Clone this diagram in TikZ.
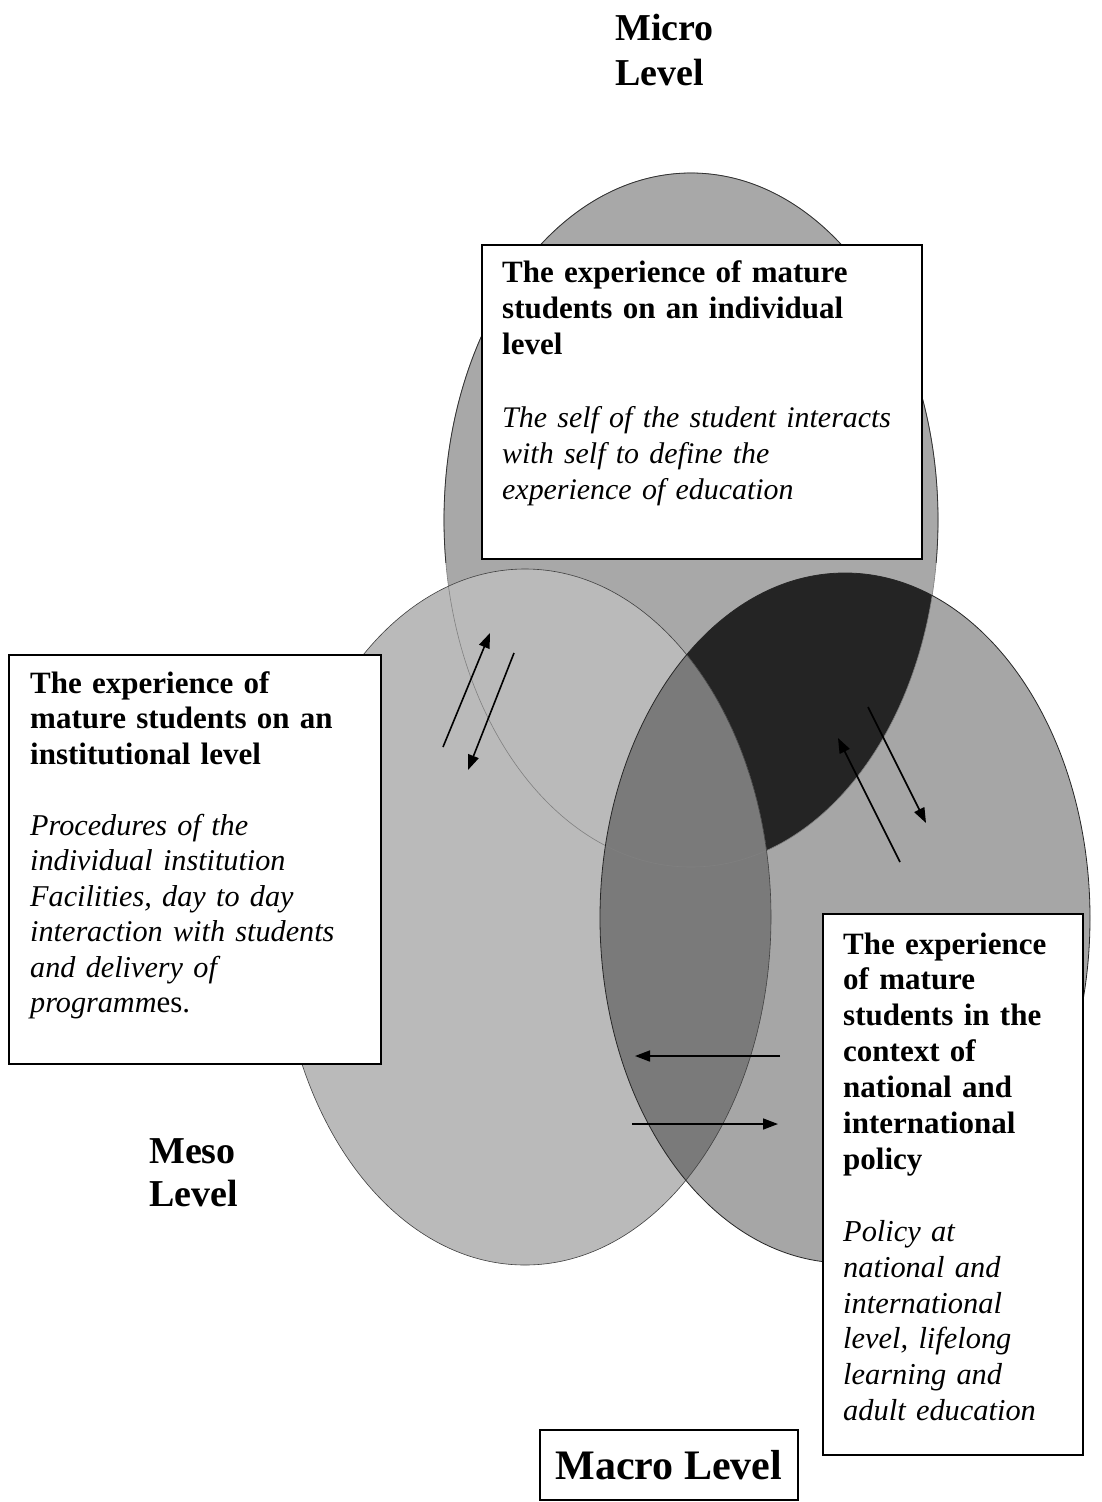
\documentclass[tikz,border=0pt]{standalone}
\usepackage{fontspec}
\setmainfont{Liberation Serif}
\usetikzlibrary{arrows.meta}
\begin{document}
\begin{tikzpicture}[x=1pt,y=-1pt,
  microfill/.style={fill=black!34},
  mesofill/.style={fill=black!27},
  macrofill/.style={fill=black!35},
  darkfill/.style={fill=black!86},
  medfill/.style={fill=black!52},
  outline/.style={draw=black!75, line width=0.8pt},
  lvl/.style={font=\fontsize{38}{45}\selectfont\bfseries, align=left, inner sep=0pt, anchor=base west, text width=160pt},
  boxframe/.style={draw=black, line width=2pt, fill=white, inner sep=0pt, anchor=north west},
  boxtext/.style={inner sep=0pt, anchor=base west, align=left},
  it/.style={},
  arr/.style={line width=1.6pt, -{Triangle[length=15pt,width=11pt]}},
]
\path[use as bounding box, fill=white] (0,0) rectangle (1102,1502);

% ellipse centres
\coordinate (cMicro) at (691,520);
\coordinate (cMeso) at (525,917);
\coordinate (cMacro) at (845,918);

% base fills
\fill[microfill] (cMicro) ellipse [x radius=247pt, y radius=347pt];
\fill[macrofill] (cMacro) ellipse [x radius=245pt, y radius=345pt];
% micro & macro overlap (dark)
\begin{scope}
  \clip (cMicro) ellipse [x radius=247pt, y radius=347pt];
  \fill[darkfill] (cMacro) ellipse [x radius=245pt, y radius=345pt];
\end{scope}
% meso on top
\fill[mesofill] (cMeso) ellipse [x radius=246pt, y radius=348pt];
% meso & macro overlap (medium)
\begin{scope}
  \clip (cMeso) ellipse [x radius=246pt, y radius=348pt];
  \fill[medfill] (cMacro) ellipse [x radius=245pt, y radius=345pt];
\end{scope}

% outlines
\draw[outline, draw=black!50, line width=0.6pt] (cMicro) ellipse [x radius=247pt, y radius=347pt];
\draw[outline, line width=0.6pt] (cMeso) ellipse [x radius=246pt, y radius=348pt];
\draw[outline, draw=black!85] (cMacro) ellipse [x radius=245pt, y radius=345pt];
\begin{scope}
  \clip (0,0) rectangle (1102,562);
  \draw[outline, draw=black!80] (cMicro) ellipse [x radius=247pt, y radius=347pt];
\end{scope}

% arrows
\coordinate (a1s) at (443,747);  \coordinate (a1e) at (490,633);
\coordinate (a2s) at (514,653);  \coordinate (a2e) at (468,770);
\coordinate (a3s) at (868,707);  \coordinate (a3e) at (926,823);
\coordinate (a4s) at (900,862);  \coordinate (a4e) at (838,738);
\coordinate (a5s) at (780,1056); \coordinate (a5e) at (635,1056);
\coordinate (a6s) at (632,1124); \coordinate (a6e) at (778,1124);
\draw[arr] (a1s) -- (a1e);
\draw[arr] (a2s) -- (a2e);
\draw[arr] (a3s) -- (a3e);
\draw[arr] (a4s) -- (a4e);
\draw[arr] (a5s) -- (a5e);
\draw[arr] (a6s) -- (a6e);

% level labels
\node[lvl] (microlbl) at (615,40) {Micro\\Level};
\node[lvl, font=\fontsize{38}{43}\selectfont\bfseries] (mesolbl) at (149,1163) {Meso\\Level};

% boxes
\node[boxframe, minimum width=440pt, minimum height=314pt] (topbox) at (481,244) {};
\node[boxtext, text width=410pt, font=\fontsize{31}{36.3}\selectfont] (toptext) at (502,282)
  {{\bfseries The experience of mature\\students on an individual\\level}\\[36.3pt]
   {\itshape\fontsize{29.9}{36.3}\selectfont The self of the student interacts\\with self to define the\\experience of education}};

\node[boxframe, minimum width=372pt, minimum height=409pt] (leftbox) at (8,654) {};
\node[boxtext, text width=345pt, font=\fontsize{31}{35.5}\selectfont] (lefttext) at (30,693)
  {{\bfseries The experience of\\mature students on an\\institutional level}\\[35.5pt]
   {\itshape\fontsize{30.2}{35.5}\selectfont Procedures of the\\individual institution\\Facilities, day to day\\interaction with students\\and delivery of\\programm}es.};

\node[boxframe, minimum width=260pt, minimum height=541pt] (rightbox) at (822,913) {};
\node[boxtext, text width=235pt, font=\fontsize{31}{35.9}\selectfont] (righttext) at (843,954)
  {{\bfseries The experience\\of mature\\students in the\\context of\\national and\\international\\policy}\\[35.9pt]
   {\itshape\fontsize{30.4}{35.9}\selectfont Policy at\\national and\\international\\level, lifelong\\learning and\\adult education}};

\node[draw=black, line width=2pt, fill=white, inner sep=0pt, minimum width=258pt, minimum height=70pt,
      font=\fontsize{42}{50}\selectfont\bfseries] (macrolbl) at (669,1465) {Macro Level};
\end{tikzpicture}
\end{document}
